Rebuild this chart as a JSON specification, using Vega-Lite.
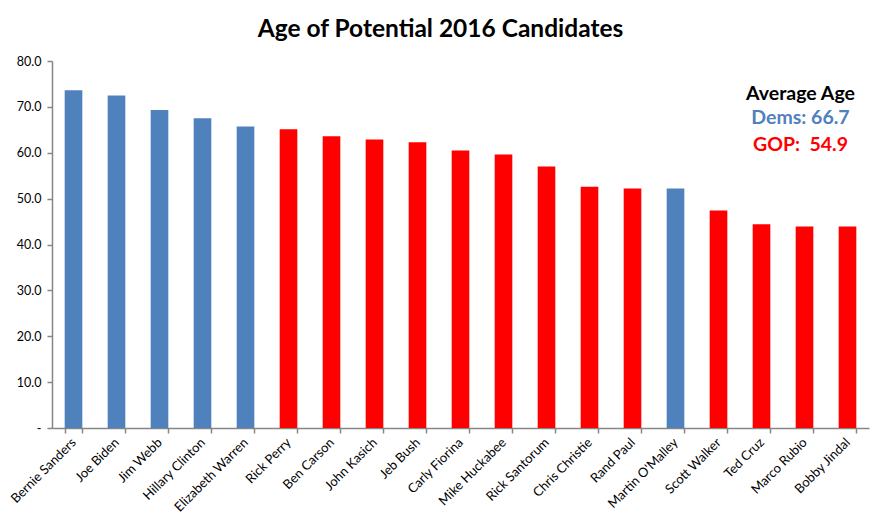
{
  "$schema": "https://vega.github.io/schema/vega-lite/v6.json",
  "width": 817,
  "height": 367,
  "autosize": {"type": "none"},
  "padding": {"left": 52, "top": 61, "right": 15, "bottom": 97},
  "background": "white",
  "title": {
    "text": "Age of Potential 2016 Candidates",
    "font": "Lato",
    "fontSize": 24.5,
    "fontWeight": "bold",
    "color": "black",
    "anchor": "middle",
    "dx": -20,
    "offset": 13
  },
  "config": {
    "view": {"stroke": null},
    "font": "Lato"
  },
  "layer": [
    {
      "data": {
        "values": [
          {"candidate": "Bernie Sanders", "age": 73.6, "party": "Dem"},
          {"candidate": "Joe Biden", "age": 72.5, "party": "Dem"},
          {"candidate": "Jim Webb", "age": 69.3, "party": "Dem"},
          {"candidate": "Hillary Clinton", "age": 67.5, "party": "Dem"},
          {"candidate": "Elizabeth Warren", "age": 65.7, "party": "Dem"},
          {"candidate": "Rick Perry", "age": 65.1, "party": "GOP"},
          {"candidate": "Ben Carson", "age": 63.6, "party": "GOP"},
          {"candidate": "John Kasich", "age": 62.9, "party": "GOP"},
          {"candidate": "Jeb Bush", "age": 62.3, "party": "GOP"},
          {"candidate": "Carly Fiorina", "age": 60.5, "party": "GOP"},
          {"candidate": "Mike Huckabee", "age": 59.6, "party": "GOP"},
          {"candidate": "Rick Santorum", "age": 57.0, "party": "GOP"},
          {"candidate": "Chris Christie", "age": 52.6, "party": "GOP"},
          {"candidate": "Rand Paul", "age": 52.2, "party": "GOP"},
          {"candidate": "Martin O'Malley", "age": 52.2, "party": "Dem"},
          {"candidate": "Scott Walker", "age": 47.4, "party": "GOP"},
          {"candidate": "Ted Cruz", "age": 44.4, "party": "GOP"},
          {"candidate": "Marco Rubio", "age": 43.9, "party": "GOP"},
          {"candidate": "Bobby Jindal", "age": 43.9, "party": "GOP"}
        ]
      },
      "mark": {"type": "bar"},
      "encoding": {
        "x": {
          "field": "candidate",
          "type": "nominal",
          "sort": null,
          "scale": {"paddingInner": 0.59, "paddingOuter": 0.295},
          "axis": {
            "title": null,
            "labelAngle": -45,
            "labelAlign": "right",
            "labelBaseline": "middle",
            "labelFontSize": 13,
            "labelColor": "black",
            "labelPadding": 7,
            "tickBand": "extent",
            "tickSize": 5,
            "domainColor": "#868686",
            "tickColor": "#868686",
            "domainWidth": 1.5,
            "tickWidth": 1.5
          }
        },
        "y": {
          "field": "age",
          "type": "quantitative",
          "scale": {"domain": [0, 80]},
          "axis": {
            "title": null,
            "values": [0, 10, 20, 30, 40, 50, 60, 70, 80],
            "labelExpr": "datum.value == 0 ? '-' : format(datum.value, '.1f')",
            "labelFontSize": 12.5,
            "labelColor": "black",
            "labelPadding": 6,
            "grid": false,
            "tickSize": 5,
            "domainColor": "#868686",
            "tickColor": "#868686",
            "domainWidth": 1.5,
            "tickWidth": 1.5
          }
        },
        "color": {
          "field": "party",
          "type": "nominal",
          "scale": {"domain": ["Dem", "GOP", "Label"], "range": ["#4F81BD", "#FF0000", "#000000"]},
          "legend": null
        }
      }
    },
    {
      "data": {
        "values": [
          {"label": "Average Age", "candidate": "Marco Rubio", "age": 72.9, "party": "Label"},
          {"label": "Dems: 66.7", "candidate": "Marco Rubio", "age": 67.5, "party": "Dem"},
          {"label": "GOP:\u00a0\u00a054.9", "candidate": "Marco Rubio", "age": 61.7, "party": "GOP"}
        ]
      },
      "mark": {"type": "text", "fontSize": 19.5, "fontWeight": "bold", "font": "Lato", "baseline": "middle", "dx": -4},
      "encoding": {
        "x": {"field": "candidate", "type": "nominal", "sort": null},
        "y": {"field": "age", "type": "quantitative"},
        "text": {"field": "label"},
        "color": {"field": "party", "type": "nominal", "legend": null}
      }
    }
  ]
}
